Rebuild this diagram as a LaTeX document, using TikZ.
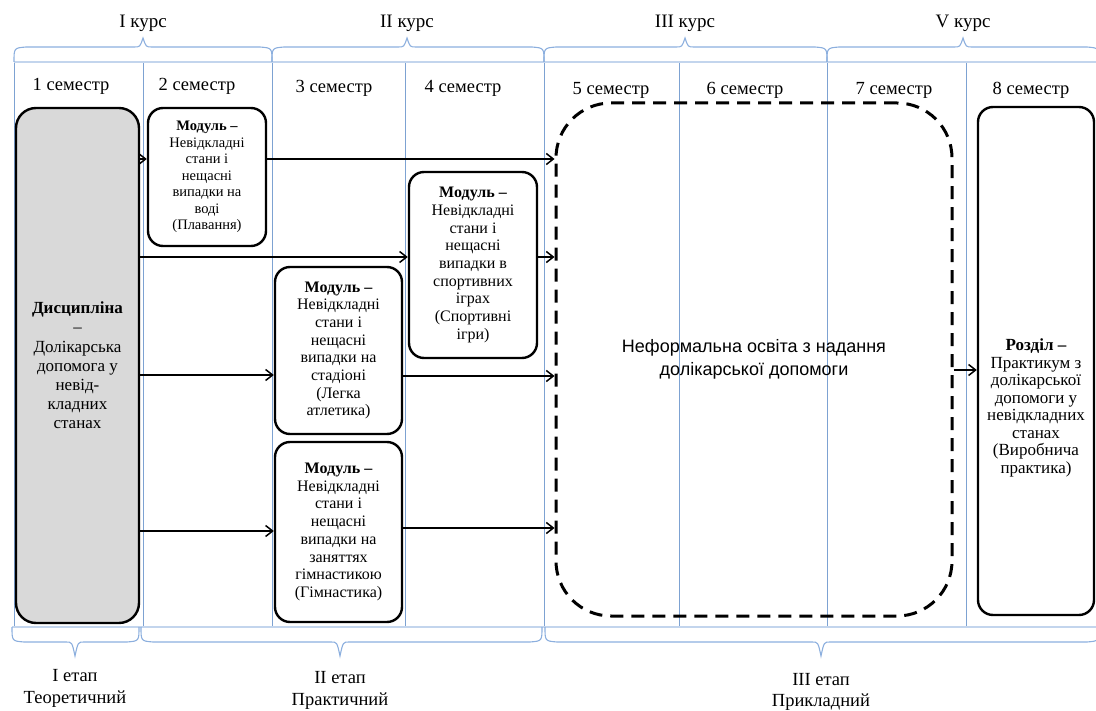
\documentclass[tikz,border=0pt]{standalone}
\usepackage{fontspec}
\setmainfont{Liberation Serif}
\newfontfamily\sansf{Liberation Sans}
\usetikzlibrary{arrows.meta}
\definecolor{gridblue}{RGB}{125,162,210}
\definecolor{hlblue}{RGB}{195,213,237}
\definecolor{braceblue}{RGB}{140,175,222}
\definecolor{boxgray}{RGB}{217,217,217}
\newcommand\mytopbrace[3]{\draw[bracepath] (#1,62) .. controls (#1,48) .. (#1+12,47) -- (#2-9,47) .. controls (#2-3,47) .. (#2,38) .. controls (#2+3,47) .. (#2+9,47) -- (#3-12,47) .. controls (#3,48) .. (#3,62);}
\newcommand\mybotbrace[3]{\draw[bracepath] (#1,627) .. controls (#1,641) .. (#1+12,642) -- (#2-9,642) .. controls (#2-3,642) .. (#2,656) .. controls (#2+3,642) .. (#2+9,642) -- (#3-12,642) .. controls (#3,641) .. (#3,627);}
\begin{document}
\begin{tikzpicture}[x=1pt,y=-1pt,
  vline/.style={draw=gridblue,line width=0.9pt},
  hline/.style={draw=hlblue,line width=1.2pt},
  bracepath/.style={draw=braceblue,line width=1.1pt},
  lbl/.style={font=\fontsize{18.5}{21}\selectfont,inner sep=0pt,align=center},
  modbox/.style={draw=black,line width=2.4pt,rounded corners=15pt,align=center,inner sep=1pt,
    font=\fontsize{16}{17.7}\selectfont},
  arr/.style={line width=1.5pt,-{Straight Barb[length=7pt,width=11pt]}}
]
\useasboundingbox (0,0) rectangle (1096,711);
% grid
\foreach \xx in {14,143,272,405,544,679,827,966}
  \draw[vline] (\xx,62) -- (\xx,627);
\draw[hline] (14,62) -- (1096,62);
\draw[hline] (12,627) -- (1096,627);
% top braces
\mytopbrace{14}{143}{272}
\mytopbrace{272}{407}{544}
\mytopbrace{544}{685}{827}
\mytopbrace{827}{963}{1099}
\node[lbl,font=\fontsize{19}{21}\selectfont] (k1) at (143,23) {I курс};
\node[lbl,font=\fontsize{19}{21}\selectfont] (k2) at (407,23) {II курс};
\node[lbl,font=\fontsize{19}{21}\selectfont] (k3) at (685,23) {III курс};
\node[lbl,font=\fontsize{19}{21}\selectfont] (k5) at (963,23) {V курс};
% semesters
\node[lbl] (s1) at (71,86) {1 семестр};
\node[lbl] (s2) at (197,86) {2 семестр};
\node[lbl] (s3) at (334,88) {3 семестр};
\node[lbl] (s4) at (463,88) {4 семестр};
\node[lbl] (s5) at (611,90) {5 семестр};
\node[lbl] (s6) at (745,90) {6 семестр};
\node[lbl] (s7) at (894,90) {7 семестр};
\node[lbl] (s8) at (1031,90) {8 семестр};
% bottom braces
\mybotbrace{12}{75}{139}
\mybotbrace{141}{340}{542}
\mybotbrace{545}{821}{1099}
\node[lbl,font=\fontsize{18.5}{22}\selectfont] (e1) at (75,688) {I етап\\Теоретичний};
\node[lbl,font=\fontsize{18.5}{22}\selectfont] (e2) at (340,690) {II етап\\Практичний};
\node[lbl,font=\fontsize{18.5}{21}\selectfont] (e3) at (821,692) {III етап\\Прикладний};
% boxes
\node[modbox,fill=boxgray,minimum width=123pt,minimum height=515pt,rounded corners=20pt,
  font=\fontsize{17}{19.2}\selectfont] (gray) at (77.5,365.5)
  {{\bfseries Дисципліна}\\–\\Долікарська\\допомога у\\невід-\\кладних\\станах};
\node[modbox,minimum width=118pt,minimum height=138pt,font=\fontsize{14.5}{16.5}\selectfont] (swim) at (207,177)
  {{\bfseries Модуль –}\\Невідкладні\\стани і\\нещасні\\випадки на\\воді\\(Плавання)};
\node[modbox,minimum width=128pt,minimum height=186pt] (sport) at (473,265)
  {{\bfseries Модуль –}\\Невідкладні\\стани і\\нещасні\\випадки в\\спортивних\\іграх\\(Спортивні\\ігри)};
\node[modbox,minimum width=127pt,minimum height=167pt] (athl) at (338.5,350.5)
  {{\bfseries Модуль –}\\Невідкладні\\стани і\\нещасні\\випадки на\\стадіоні\\(Легка\\атлетика)};
\node[modbox,minimum width=127pt,minimum height=180pt] (gym) at (338.5,532)
  {{\bfseries Модуль –}\\Невідкладні\\стани і\\нещасні\\випадки на\\заняттях\\гімнастикою\\(Гімнастика)};
\node[draw=black,line width=3pt,dash pattern=on 13pt off 8pt,rounded corners=55pt,
  minimum width=396pt,minimum height=513pt,align=center,
  font=\sansf\fontsize{18}{23}\selectfont] (inf) at (754,359.5)
  {Неформальна освіта з надання\\долікарської допомоги};
\node[modbox,minimum width=116pt,minimum height=508pt] (rozdil) at (1036,361) {};
\node[lbl,font=\fontsize{17}{17.5}\selectfont] (rozdiltxt) at (1036,408)
  {{\bfseries Розділ –}\\Практикум з\\долікарської\\допомоги у\\невідкладних\\станах\\(Виробнича\\практика)};
% arrows
\draw[arr] (gray.east |- 0,159) -- (swim.west |- 0,159);
\draw[arr] (swim.east |- 0,159) -- (inf.west |- 0,159);
\draw[arr] (gray.east |- 0,257) -- (sport.west |- 0,257);
\draw[arr] (sport.east |- 0,257) -- (inf.west |- 0,257);
\draw[arr] (gray.east |- 0,375) -- (athl.west |- 0,375);
\draw[arr] (athl.east |- 0,376) -- (inf.west |- 0,376);
\draw[arr] (gray.east |- 0,531) -- (gym.west |- 0,531);
\draw[arr] (gym.east |- 0,528) -- (inf.west |- 0,528);
\draw[arr] (inf.east |- 0,370) -- (rozdil.west |- 0,370);
\end{tikzpicture}
\end{document}
